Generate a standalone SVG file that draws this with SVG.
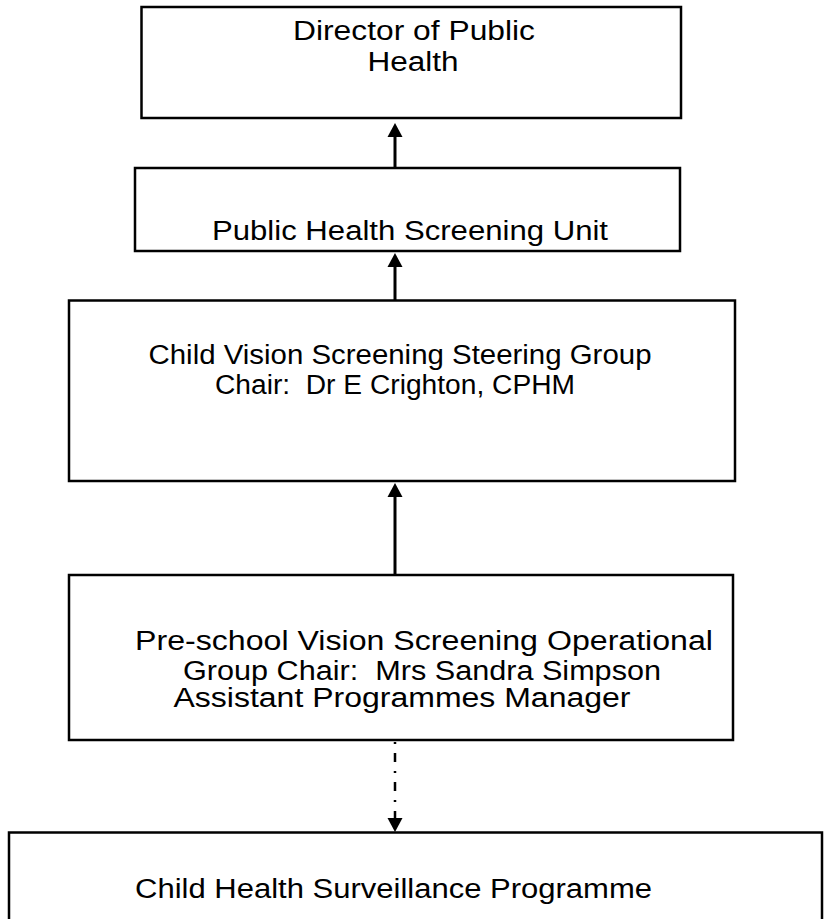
<svg xmlns="http://www.w3.org/2000/svg" width="827" height="919" viewBox="0 0 827 919">
<style>
.box{fill:#fff;stroke:#000;stroke-width:2.5}
.t{font-family:"Liberation Sans",Arial,sans-serif;font-size:27px;fill:#000;text-anchor:middle;white-space:pre}
.c{stroke:#000;stroke-width:3;fill:none}
.d{stroke:#000;stroke-width:2.5;fill:none;stroke-dasharray:2 9 9 9}
</style>
<defs>
<marker id="ah" markerUnits="userSpaceOnUse" markerWidth="15" markerHeight="16" refX="0" refY="7.5" orient="auto" viewBox="0 0 15 15">
<path d="M0,0 L14,7.5 L0,15 z" fill="#000"/>
</marker>
</defs>
<g id="n1"><rect class="box" x="141.5" y="7" width="539.5" height="111"/>
<text class="t" x="414" y="40" textLength="242" lengthAdjust="spacingAndGlyphs">Director of Public</text>
<text class="t" x="413" y="71" textLength="91" lengthAdjust="spacingAndGlyphs">Health</text></g>
<g id="n2"><rect class="box" x="135" y="168" width="545" height="83"/>
<text class="t" x="410" y="240" textLength="396" lengthAdjust="spacingAndGlyphs">Public Health Screening Unit</text></g>
<g id="n3"><rect class="box" x="69" y="300.5" width="666" height="180.5"/>
<text class="t" x="400" y="364" textLength="503" lengthAdjust="spacingAndGlyphs" xml:space="preserve">Child Vision Screening Steering Group</text>
<text class="t" x="395" y="394" textLength="360" lengthAdjust="spacingAndGlyphs" xml:space="preserve">Chair:  Dr E Crighton, CPHM</text></g>
<g id="n4"><rect class="box" x="69" y="575" width="664" height="165"/>
<text class="t" x="424" y="650" textLength="578" lengthAdjust="spacingAndGlyphs" xml:space="preserve">Pre-school Vision Screening Operational</text>
<text class="t" x="422" y="680" textLength="478" lengthAdjust="spacingAndGlyphs" xml:space="preserve">Group Chair:  Mrs Sandra Simpson</text>
<text class="t" x="402" y="707" textLength="457" lengthAdjust="spacingAndGlyphs" xml:space="preserve">Assistant Programmes Manager</text></g>
<g id="n5"><rect class="box" x="9" y="832.5" width="813" height="100"/>
<text class="t" x="393.5" y="898" textLength="517" lengthAdjust="spacingAndGlyphs">Child Health Surveillance Programme</text></g>
<g id="connectors">
<line class="c" x1="395" y1="168" x2="395" y2="137" marker-end="url(#ah)"/>
<line class="c" x1="395" y1="300" x2="395" y2="267" marker-end="url(#ah)"/>
<line class="c" x1="395" y1="575" x2="395" y2="497" marker-end="url(#ah)"/>
<line class="d" x1="395" y1="742" x2="395" y2="818" marker-end="url(#ah)"/>
</g>
</svg>
